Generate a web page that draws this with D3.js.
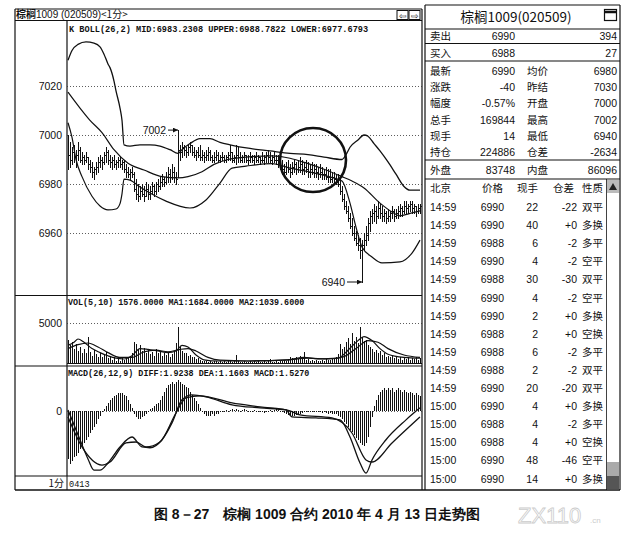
<!DOCTYPE html>
<html>
<head>
<meta charset="utf-8">
<script src="https://cdn.jsdelivr.net/npm/d3@7"></script>
<style>
body { margin: 0; background: #fff; }
svg text { font-family: "Liberation Sans", Arial, sans-serif; fill: #111; }
.mono { font-family: "Liberation Mono", "DejaVu Sans Mono", monospace; }
.cjk { font-family: "Noto Sans CJK SC", sans-serif; }
</style>
</head>
<body>
<svg id="chart" width="634" height="540"></svg>
<script>
// 1 minute bars, one per column
var barHigh = [7000,6997,6995,6996,6994,6997,6995,6993,6992,6993,
    6991,6990,6989,6987,6989,6991,6992,6991,6993,6995,
    6994,6992,6991,6992,6990,6991,6991,6990,6990,6988,
    6987,6986,6987,6985,6982,6980,6979,6980,6979,6981,
    6980,6979,6981,6980,6981,6982,6983,6984,6983,6985,
    6987,6986,6988,6987,6985,7002,6996,6997,6996,6995,
    6996,6997,6996,6995,6994,6995,6996,6994,6993,6994,
    6995,6994,6992,6993,6994,6993,6992,6993,6992,6992,
    6993,6996,6993,6992,6996,6995,6993,6992,6993,6992,
    6992,6993,6992,6992,6993,6992,6991,6993,6992,6993,
    6994,6993,6992,6993,6992,6992,6991,6990,6988,6989,
    6990,6988,6989,6990,6989,6990,6991,6990,6989,6990,
    6989,6988,6989,6988,6988,6987,6988,6987,6986,6987,
    6986,6986,6985,6985,6984,6984,6982,6979,6976,6973,
    6971,6968,6966,6963,6961,6959,6958,6957,6960,6963,
    6966,6969,6970,6972,6971,6973,6972,6971,6970,6969,
    6970,6969,6971,6970,6970,6971,6972,6971,6973,6973,
    6972,6973,6973,6972,6971,6972,6972];
var barLow = [6986,6987,6988,6989,6987,6990,6989,6988,6988,6989,
    6986,6985,6983,6982,6984,6985,6987,6986,6988,6989,
    6988,6987,6986,6987,6986,6987,6987,6986,6985,6983,
    6983,6982,6983,6977,6974,6973,6974,6975,6973,6975,
    6974,6974,6976,6975,6976,6977,6978,6979,6979,6980,
    6981,6981,6982,6981,6980,6983,6990,6991,6992,6991,
    6992,6993,6992,6991,6990,6991,6990,6990,6989,6990,
    6990,6990,6989,6989,6990,6989,6989,6990,6989,6989,
    6990,6990,6989,6989,6988,6989,6989,6989,6989,6989,
    6988,6989,6989,6988,6989,6989,6988,6989,6988,6989,
    6989,6989,6988,6989,6988,6987,6986,6984,6983,6984,
    6985,6983,6984,6985,6984,6985,6985,6984,6984,6985,
    6983,6983,6984,6983,6983,6982,6983,6982,6982,6982,
    6981,6981,6981,6980,6980,6979,6976,6973,6970,6968,
    6965,6962,6959,6957,6955,6953,6950,6940,6953,6955,
    6957,6961,6964,6965,6964,6966,6966,6965,6965,6964,
    6965,6965,6966,6965,6966,6966,6967,6967,6968,6968,
    6968,6969,6968,6968,6967,6968,6968];
var barClose = [6992,6990,6993,6991,6992,6994,6990,6991,6990,6991,
    6988,6987,6985,6986,6987,6989,6990,6989,6992,6993,
    6990,6989,6990,6988,6989,6990,6988,6989,6986,6985,
    6984,6985,6984,6978,6976,6975,6977,6976,6975,6978,
    6976,6977,6979,6977,6980,6979,6981,6982,6981,6983,
    6984,6983,6985,6983,6982,6994,6993,6995,6994,6993,
    6995,6996,6993,6992,6993,6992,6991,6992,6991,6992,
    6993,6991,6990,6991,6992,6990,6991,6991,6990,6991,
    6992,6993,6990,6991,6992,6991,6990,6991,6992,6990,
    6990,6991,6990,6991,6990,6991,6990,6990,6991,6992,
    6991,6990,6991,6990,6990,6989,6987,6986,6985,6987,
    6986,6985,6987,6988,6986,6987,6988,6986,6987,6986,
    6985,6986,6985,6986,6985,6984,6985,6984,6984,6983,
    6983,6982,6983,6982,6981,6980,6977,6974,6971,6969,
    6966,6963,6960,6958,6956,6955,6953,6955,6957,6959,
    6964,6967,6968,6969,6967,6970,6968,6967,6968,6966,
    6967,6968,6969,6967,6968,6969,6970,6969,6971,6970,
    6971,6972,6970,6971,6969,6970,6971];

// BOLL(26,2) lines as [bar, price]
var bollUpper = [[0,7030.5],[2,7034.5],[5,7037],[9,7038],[13,7037.5],[16,7036],[18,7033],
    [20,7029],[21,7027.5],[23,7022],[24,7018],[26,7011],[27,7006],[28,6996],[31,6995.5],
    [36,6996],[41,6996],[46,6995.5],[51,6994],[55,6992.5],[57,6994],[61,6996.5],[66,6998.5],
    [71,6998.5],[76,6997],[81,6996],[91,6994.5],[101,6993.5],[111,6992.5],[120,6992],
    [128,6991],[137,6990],[139,6992],[141,6995],[145,6998],[148,7000],[150,6999.5],
    [153,6996.5],[156,6993.5],[160,6989],[164,6984],[168,6979],[171,6977.5],[176,6977.5]];
var bollMid = [[0,7017.5],[6,7011],[11,7006],[17,7001],[23,6994],[30,6988.5],[38,6985.7],
    [47,6983],[55,6982.5],[60,6983],[67,6985],[73,6988],[80,6990],[89,6991],[102,6991.5],
    [111,6990.5],[119,6988.6],[129,6985.7],[137,6983],[142,6981.2],[148,6978.4],
    [156,6972.2],[162,6968.6],[166,6967],[171,6968],[176,6969]];
var bollLower = [[0,7005],[2,6999],[4,6990],[7,6983],[12,6975],[16,6971],[20,6969.4],
    [24,6969.8],[26,6972],[27,6976],[28,6982],[31,6981.6],[36,6978.8],[41,6976.3],
    [49,6973],[61,6970.2],[69,6973.5],[76,6980.4],[82,6986.5],[89,6987.3],[102,6988.3],
    [111,6986.5],[121,6984.9],[131,6982.9],[137,6981.2],[141,6972.2],[144,6962.4],
    [147,6954.3],[152,6950.2],[157,6947.8],[166,6948.2],[172,6951.8],[176,6957.1]];

var volume = [2900,2200,2600,1800,2400,1500,2000,1300,1700,1200,
    3300,1400,900,1600,1100,700,1200,800,1000,1400,
    600,900,400,700,300,500,300,600,400,500,
    700,900,1200,2600,2400,1800,2300,1500,1900,1300,
    1700,1100,1400,900,1700,1200,1500,900,1300,1000,
    1400,800,1100,1500,2500,4500,2000,1500,1200,1300,
    900,1000,700,800,500,600,400,300,200,300,
    150,250,100,200,300,150,200,100,250,150,
    300,200,100,250,1000,200,150,100,200,150,
    100,250,150,300,100,200,150,100,200,150,
    250,500,150,100,200,150,300,200,400,300,
    500,800,600,400,700,500,900,600,1400,400,
    500,300,400,200,350,300,250,400,300,500,
    350,400,600,500,800,1100,2400,1700,2000,2600,
    3100,2400,3800,2800,3300,2500,4500,3300,2700,2900,
    2300,2000,1700,1400,1600,1200,1500,1000,1200,800,
    900,700,1000,600,800,500,700,400,600,500,
    700,400,600,500,800,400,600];
var volMa1 = [[0,2200],[3,2600],[5,3000],[8,2600],[12,1800],[16,1300],[20,900],[24,600],
    [28,500],[32,900],[36,1800],[40,1700],[45,1500],[50,1300],[54,1500],[57,2200],[60,2000],
    [64,1000],[68,400],[75,250],[90,250],[110,400],[118,700],[125,500],[135,600],[140,1600],
    [145,2800],[148,3300],[152,2800],[156,1800],[160,1100],[168,700],[176,600]];
var volMa2 = [[0,1800],[5,2300],[10,2500],[15,2000],[20,1300],[26,700],[32,700],[38,1400],
    [44,1600],[50,1400],[56,1700],[60,1800],[64,1500],[70,700],[76,350],[90,250],[110,400],
    [120,600],[130,500],[138,800],[144,1800],[150,2800],[155,2600],[160,1800],[168,1000],[176,700]];

var macdBar = [-30,-33,-31,-29,-28,-26,-24,-22,-20,-18,
    -16,-14,-12,-10,-8,-5,-3,-1,1,3,
    5,7,8,9,10,11,11,11,10,9,
    7,4,2,-2,-4,-5,-5,-4,-3,-2,
    -1,1,2,3,4,5,7,9,12,14,
    16,17,18,17,18,19,18,17,16,15,
    14,12,10,8,6,4,2,-1,-2,-3,
    -3,-3,-2,-3,-2,-2,-1,-1,-1,0.5,
    -1,0.5,1,0.5,1,0.5,-0.5,0.5,1,0.5,
    -0.5,-1,-0.5,0.5,-0.5,-1,-0.5,-1,-1.5,-1,
    -0.5,0.5,-0.5,0.5,1,0.5,-0.5,-1,-1.5,-2,
    -2.5,-3,-3,-3,-2.5,-2,-2,-1.5,-1,-1,
    -0.5,-1,-0.5,-1,-0.5,-1,-1,-1.5,-1,-1.5,
    -2,-1.5,-2,-2,-2,-3,-4,-5,-7,-8,
    -10,-12,-13,-15,-17,-18,-20,-21,-22,-20,
    -16,-10,-4,3,7,10,12,13,14,13,
    14,13,14,12,13,14,13,12,13,12,
    11,12,11,10,11,10,9];
var macdDiff = [[0,0.5],[2,-5.6],[6,-18],[10,-30],[13,-37],[16,-37],[20,-32.5],[26,-22.5],
    [32,-16.3],[37,-22.5],[41,-23],[47,-18],[52,-7.5],[57,6.9],[62,10],[69,8.8],[82,3.8],
    [96,1.9],[109,0.6],[112,-3.8],[124,-4.4],[136,-5.6],[141,-16.3],[146,-32.5],[149,-38.8],
    [152,-30.6],[159,-18],[169,-5.6],[176,1.9]];
var macdDea = [[0,-3.8],[7,-22.5],[17,-33.8],[21,-31.9],[29,-20],[34,-19.4],[39,-22.5],
    [46,-19.4],[54,-1.3],[59,8.1],[66,9.4],[82,5],[96,2.5],[111,0],[116,-2.5],[132,-4.4],
    [142,-13.8],[149,-30.6],[152,-31.9],[162,-20],[176,-3.8]];

var priceTicks = [7020, 7000, 6980, 6960];
var volTicks = [5000];
var macdTicks = [0];

var quoteTop = [["卖出", "6990", "", "394"], ["买入", "6988", "", "27"]];
var quoteMain = [["最新", "6990", "均价", "6980"], ["涨跌", "-40", "昨结", "7030"],
    ["幅度", "-0.57%", "开盘", "7000"], ["总手", "169844", "最高", "7002"],
    ["现手", "14", "最低", "6940"], ["持仓", "224886", "仓差", "-2634"]];
var quoteOut = [["外盘", "83748", "内盘", "86096"]];
var tradeHead = ["北京", "价格", "现手", "仓差", "性质"];
var trades = [["14:59","6990","22","-22","双平"], ["14:59","6990","40","+0","多换"],
    ["14:59","6988","6","-2","多平"], ["14:59","6990","4","-2","空平"],
    ["14:59","6988","30","-30","双平"], ["14:59","6990","4","-2","空平"],
    ["14:59","6990","2","+0","多换"], ["14:59","6988","2","+0","空换"],
    ["14:59","6988","6","-2","多平"], ["14:59","6988","2","-2","双平"],
    ["14:59","6990","20","-20","双平"], ["15:00","6990","4","+0","多换"],
    ["15:00","6988","4","-2","多平"], ["15:00","6988","4","+0","空换"],
    ["15:00","6990","48","-46","空平"], ["15:00","6990","14","+0","多换"]];

var svg = d3.select("#chart");
var N = barClose.length;
var left = 15, axisX = 67, right = 422;
var x = d3.scaleLinear().domain([0, N - 1]).range([68, 420]);
var yPrice = d3.scaleLinear().domain([6940, 7040]).range([282, 37]);
var yVol = d3.scaleLinear().domain([0, 5000]).range([363, 323]);
var yMacd = d3.scaleLinear().domain([-40, 28]).range([475, 366]);

function line(x1, y1, x2, y2, w) {
    svg.append("line")
        .attr("x1", x1).attr("y1", y1).attr("x2", x2).attr("y2", y2)
        .attr("stroke", "#111").attr("stroke-width", w || 1);
}

function clip(id, y0, y1) {
    svg.append("clipPath").attr("id", id).append("rect")
        .attr("x", axisX).attr("y", y0).attr("width", right - axisX).attr("height", y1 - y0);
}

function grid(ticks, scale, fmt) {
    svg.append("g").selectAll("line").data(ticks).enter().append("line")
        .attr("x1", axisX).attr("x2", right)
        .attr("y1", function(d) { return Math.round(scale(d)) + 0.5; })
        .attr("y2", function(d) { return Math.round(scale(d)) + 0.5; })
        .attr("stroke", "#333").attr("stroke-width", 0.8)
        .attr("stroke-dasharray", "1,2");
    svg.append("g").selectAll("text").data(ticks).enter().append("text")
        .attr("x", 62).attr("y", function(d) { return scale(d) + 4; })
        .attr("text-anchor", "end").attr("font-size", 10.5)
        .text(fmt || String);
}

function curve(data, scale, g, w) {
    var path = d3.line()
        .x(function(d) { return x(d[0]); })
        .y(function(d) { return scale(d[1]); })
        .curve(d3.curveMonotoneX);
    g.append("path").datum(data).attr("d", path)
        .attr("fill", "none").attr("stroke", "#111").attr("stroke-width", w || 1.2);
}

clip("clipPrice", 21, 295);
clip("clipVol", 296, 366);
clip("clipMacd", 367, 476);

// frame of the chart window
line(left, 9, 422, 9, 1.2);
line(left, 20.5, 422, 20.5, 1);
line(left, 9, left, 490, 1.2);
line(axisX, 20.5, axisX, 476, 1.2);
line(right, 9, right, 490, 1.2);
line(left, 295.5, right, 295.5, 1.2);
line(left, 366, right, 366, 1.2);
line(left, 476, right, 476, 1.2);
line(left, 490, 620, 490, 1.5);
line(axisX, 476, axisX, 490, 1);

var title = svg.append("text").attr("x", 16).attr("y", 18).attr("font-size", 10);
title.append("tspan").attr("class", "cjk").attr("font-weight", "bold").text("棕榈");
title.append("tspan").text("1009 (020509)");
title.append("tspan").attr("class", "cjk").text("<1分>");

// small arrow buttons top right of the chart
[397, 409].forEach(function(bx, k) {
    svg.append("rect").attr("x", bx).attr("y", 10.5).attr("width", 11).attr("height", 9)
        .attr("fill", "#fff").attr("stroke", "#111").attr("stroke-width", 1);
    svg.append("text").attr("x", bx + 5.5).attr("y", 18.5).attr("text-anchor", "middle")
        .attr("font-size", 9).attr("font-family", "DejaVu Sans")
        .text(k === 0 ? "⇦" : "⇨");
});

// price pane
grid(priceTicks, yPrice);
svg.append("text").attr("class", "mono").attr("x", 69).attr("y", 32).attr("font-size", 8.6)
    .attr("font-weight", "bold")
    .text("K  BOLL(26,2) MID:6983.2308 UPPER:6988.7822 LOWER:6977.6793");

var pg = svg.append("g").attr("clip-path", "url(#clipPrice)");
var bars = pg.append("g").attr("shape-rendering", "crispEdges");
bars.selectAll("line.hl").data(barClose).enter().append("line")
    .attr("x1", function(d, i) { return Math.round(x(i)) + 0.5; })
    .attr("x2", function(d, i) { return Math.round(x(i)) + 0.5; })
    .attr("y1", function(d, i) { return yPrice(barHigh[i]); })
    .attr("y2", function(d, i) { return yPrice(barLow[i]) + 1; })
    .attr("stroke", "#111").attr("stroke-width", 1);
bars.selectAll("line.cl").data(barClose).enter().append("line")
    .attr("x1", function(d, i) { return Math.round(x(i)) + 1; })
    .attr("x2", function(d, i) { return Math.round(x(i)) + 2; })
    .attr("y1", function(d) { return Math.round(yPrice(d)) + 0.5; })
    .attr("y2", function(d) { return Math.round(yPrice(d)) + 0.5; })
    .attr("stroke", "#111").attr("stroke-width", 1);
curve(bollUpper, yPrice, pg, 1.3);
curve(bollMid, yPrice, pg, 1.2);
curve(bollLower, yPrice, pg, 1.2);

// highlighted area and the two price notes
svg.append("ellipse").attr("cx", 313).attr("cy", 160).attr("rx", 33).attr("ry", 32)
    .attr("fill", "none").attr("stroke", "#111").attr("stroke-width", 2.6);

svg.append("defs").append("marker").attr("id", "arr")
    .attr("viewBox", "0 0 6 6").attr("refX", 6).attr("refY", 3)
    .attr("markerWidth", 5).attr("markerHeight", 5).attr("orient", "auto")
    .append("path").attr("d", "M0,0L6,3L0,6z").attr("fill", "#111");

var notes = [{text: "7002", bar: 55, price: 7002, tx: 166}, {text: "6940", bar: 147, price: 6940, tx: 345}];
notes.forEach(function(n) {
    var ny = yPrice(n.price);
    svg.append("text").attr("x", n.tx).attr("y", ny + 4).attr("text-anchor", "end")
        .attr("font-size", 10.5).text(n.text);
    svg.append("line").attr("x1", n.tx + 2).attr("x2", x(n.bar)).attr("y1", ny).attr("y2", ny)
        .attr("stroke", "#111").attr("stroke-width", 1).attr("marker-end", "url(#arr)");
});

// volume pane
grid(volTicks, yVol);
svg.append("text").attr("class", "mono").attr("x", 68).attr("y", 305).attr("font-size", 8.4)
    .attr("font-weight", "bold")
    .text("VOL(5,10) 1576.0000 MA1:1684.0000 MA2:1039.6000");
var vg = svg.append("g").attr("clip-path", "url(#clipVol)");
vg.append("g").attr("shape-rendering", "crispEdges")
    .selectAll("line").data(volume).enter().append("line")
    .attr("x1", function(d, i) { return Math.round(x(i)) + 0.5; })
    .attr("x2", function(d, i) { return Math.round(x(i)) + 0.5; })
    .attr("y1", yVol(0)).attr("y2", function(d) { return yVol(d); })
    .attr("stroke", "#111").attr("stroke-width", 1.2);
curve(volMa1, yVol, vg, 1.2);
curve(volMa2, yVol, vg, 1.2);
line(axisX, yVol(0) + 0.5, right, yVol(0) + 0.5, 1);

// MACD pane
grid(macdTicks, yMacd);
svg.append("text").attr("class", "mono").attr("x", 68).attr("y", 376).attr("font-size", 8.4)
    .attr("font-weight", "bold")
    .text("MACD(26,12,9) DIFF:1.9238 DEA:1.1603 MACD:1.5270");
var mg = svg.append("g").attr("clip-path", "url(#clipMacd)");
mg.append("g").attr("shape-rendering", "crispEdges")
    .selectAll("line").data(macdBar).enter().append("line")
    .attr("x1", function(d, i) { return Math.round(x(i)) + 0.5; })
    .attr("x2", function(d, i) { return Math.round(x(i)) + 0.5; })
    .attr("y1", yMacd(0)).attr("y2", function(d) { return yMacd(d); })
    .attr("stroke", "#111").attr("stroke-width", 1);
curve(macdDiff, yMacd, mg, 1.3);
curve(macdDea, yMacd, mg, 1.3);

svg.append("text").attr("class", "cjk").attr("x", 64).attr("y", 487).attr("text-anchor", "end")
    .attr("font-size", 10).text("1分");
svg.append("text").attr("class", "mono").attr("x", 69).attr("y", 487).attr("font-size", 8.6).text("0413");

// quote panel on the right
var px0 = 425, px1 = 620;
line(px0, 5, px0, 490, 1.2);
line(px1, 5, px1, 490, 1.2);
line(px0, 5, px1, 5, 1.2);
[29, 43.5, 61, 160, 179].forEach(function(yy) { line(px0, yy, px1, yy, 1.2); });
svg.append("text").attr("class", "cjk").attr("x", 516).attr("y", 22).attr("text-anchor", "middle")
    .attr("font-size", 13.5).text("棕榈1009(020509)");
svg.append("rect").attr("x", 604.5).attr("y", 9.5).attr("width", 12).attr("height", 11)
    .attr("fill", "#fff").attr("stroke", "#111").attr("stroke-width", 1.2);
line(604.5, 12, 616.5, 12, 2.5);

function quoteRows(rows, y0, step) {
    var g = svg.append("g").selectAll("g").data(rows).enter().append("g")
        .attr("transform", function(d, i) { return "translate(0," + (y0 + i * step) + ")"; });
    g.append("text").attr("class", "cjk").attr("x", 430).attr("font-size", 10.5).text(function(d) { return d[0]; });
    g.append("text").attr("x", 515).attr("text-anchor", "end").attr("font-size", 10.5).text(function(d) { return d[1]; });
    g.append("text").attr("class", "cjk").attr("x", 527).attr("font-size", 10.5).text(function(d) { return d[2]; });
    g.append("text").attr("x", 617).attr("text-anchor", "end").attr("font-size", 10.5).text(function(d) { return d[3]; });
}
quoteRows(quoteTop, 40, 16.5);
quoteRows(quoteMain, 75, 16.2);
quoteRows(quoteOut, 174, 16);

var head = svg.append("g");
var headX = [430, 482, 517, 553, 582];
head.selectAll("text").data(tradeHead).enter().append("text")
    .attr("class", "cjk").attr("x", function(d, i) { return headX[i]; }).attr("y", 192)
    .attr("font-size", 10.5).text(function(d) { return d; });

var tradeX = [430, 504, 538, 577, 582];
var tradeAnchor = ["start", "end", "end", "end", "start"];
var rowsG = svg.append("g").selectAll("g").data(trades).enter().append("g")
    .attr("transform", function(d, i) { return "translate(0," + (211 + i * 18.1) + ")"; });
rowsG.selectAll("text").data(function(d) { return d; }).enter().append("text")
    .attr("class", function(d, i) { return i === 4 ? "cjk" : null; })
    .attr("x", function(d, i) { return tradeX[i]; })
    .attr("text-anchor", function(d, i) { return tradeAnchor[i]; })
    .attr("font-size", 10.5).text(function(d) { return d; });

// scroll bar
line(606.5, 179, 606.5, 490, 0.8);
svg.append("rect").attr("x", 607).attr("y", 180).attr("width", 12).attr("height", 13).attr("fill", "#bbb");
svg.append("path").attr("d", "M609,190L613,183L617,190z").attr("fill", "#222");
svg.append("rect").attr("x", 607).attr("y", 462).attr("width", 12).attr("height", 14).attr("fill", "#aaa");
svg.append("rect").attr("x", 607).attr("y", 476).attr("width", 12).attr("height", 13).attr("fill", "#555");

// caption and faint watermark
svg.append("text").attr("x", 317).attr("y", 519).attr("text-anchor", "middle")
    .attr("font-size", 14).attr("font-weight", "bold")
    .attr("font-family", "'Liberation Serif', 'Noto Sans CJK SC', serif")
    .text("图 8－27　棕榈 1009 合约 2010 年 4 月 13 日走势图");
svg.append("text").attr("x", 518).attr("y", 523).attr("font-size", 22)
    .attr("stroke", "#ccc").attr("stroke-width", 0.8)
    .style("fill", "#fff").text("ZX110");
svg.append("text").attr("x", 590).attr("y", 523).attr("font-size", 8)
    .style("fill", "#ccc").text(".cn");
</script>
</body>
</html>
